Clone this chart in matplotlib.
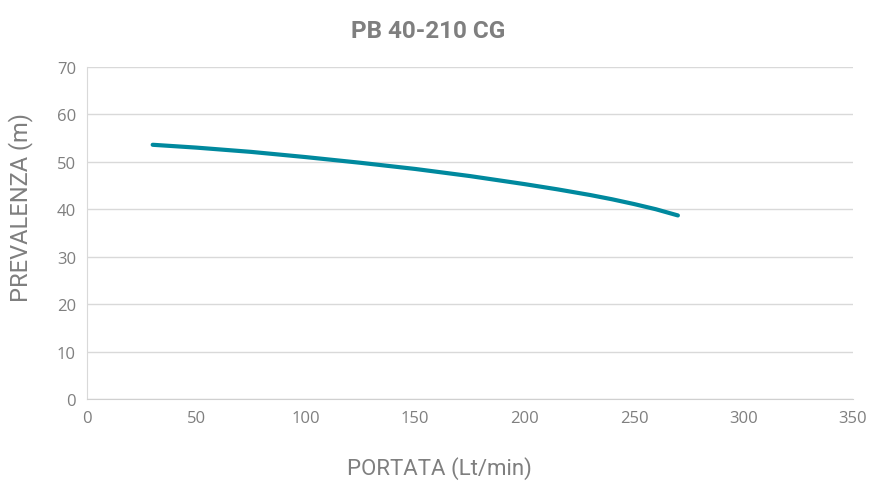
# -*- coding: utf-8 -*-
import matplotlib
matplotlib.use("Agg")
import matplotlib.pyplot as plt

# Data
portata = [30, 50, 75, 100, 125, 150, 175, 200, 215, 230, 240, 250, 260, 270]
prevalenza = [53.6, 53.0, 52.1, 51.0, 49.8, 48.5, 47.0, 45.3, 44.2, 43.0, 42.1, 41.1, 40.0, 38.7]

x_ticks = [0, 50, 100, 150, 200, 250, 300, 350]
y_ticks = [0, 10, 20, 30, 40, 50, 60, 70]

GREY = "#7f7f7f"

fig = plt.figure(figsize=(8.71, 4.85), dpi=100)
ax = fig.add_axes([0.0999, 0.1753, 0.8794, 0.6845])

ax.plot(portata, prevalenza, color="#00899e", linewidth=3,
        solid_capstyle="round", solid_joinstyle="round")

ax.set_xlim(0, 350)
ax.set_ylim(0, 70)
ax.set_xticks(x_ticks)
ax.set_yticks(y_ticks)
ax.grid(axis="y", color="#d9d9d9", linewidth=1)
ax.set_axisbelow(True)

for side in ["top", "right"]:
        ax.spines[side].set_visible(False)
ax.spines["left"].set_color("#d9d9d9")
ax.spines["bottom"].set_color("#d0d0d0")
ax.tick_params(length=0, labelsize=12, colors=GREY, pad=8)
for lab in ax.get_xticklabels() + ax.get_yticklabels():
        lab.set_family("Open Sans")

# axis titles and chart title placed in figure coords
fig.text(439 / 871, 1 - 469 / 485, "PORTATA (Lt/min)", ha="center", va="center",
         fontsize=16, color=GREY, family="Roboto")
fig.text(21 / 871, 1 - 208 / 485, "PREVALENZA (m)", ha="center", va="center",
         rotation=90, fontsize=17, color=GREY, family="Roboto")
fig.text(428 / 871, 1 - 31 / 485, "PB 40-210 CG", ha="center", va="center", fontsize=17.5,
         fontweight="bold", color=GREY, family="Roboto")

fig.savefig("out.png", dpi=100)
